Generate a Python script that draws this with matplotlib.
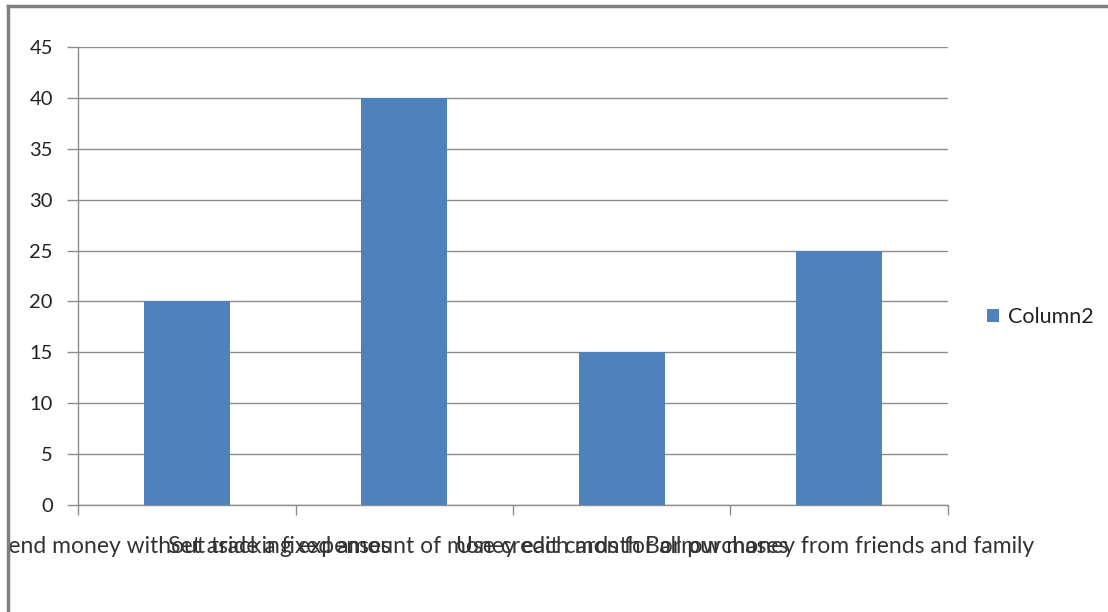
import matplotlib.pyplot as plt
from matplotlib.lines import Line2D
from matplotlib.transforms import Bbox, TransformedBbox

# Answers and counts
categories = [
    "Spend money without tracking expenses",
    "Set aside a fixed amount of money each month",
    "Use credit cards for all purchases",
    "Borrow money from friends and family",
]
values = [20, 40, 15, 25]
series_name = "Column2"
y_ticks = [0, 5, 10, 15, 20, 25, 30, 35, 40, 45]

plt.rcParams["font.family"] = ["Lato", "DejaVu Sans"]

bar_color = "#4F81BD"
line_color = "#8C8C8C"

fig = plt.figure(figsize=(11.08, 6.12), dpi=100)
ax = fig.add_axes([78 / 1108, 107 / 612, 870 / 1108, 458 / 612])

x = list(range(len(categories)))
ax.bar(x, values, width=0.395, color=bar_color, label=series_name, zorder=3)

ax.set_xlim(-0.5, len(categories) - 0.5)
ax.set_ylim(0, 45)
ax.set_yticks(y_ticks)
ax.yaxis.grid(True, color=line_color, linewidth=1)
ax.set_axisbelow(True)

# labels under the bars, tick marks between categories
ax.set_xticks(x)
ax.set_xticklabels(categories, fontsize=16.5, color="#333333")
ax.tick_params(axis="x", which="major", length=0, pad=22)
ax.set_xticks([i - 0.5 for i in range(len(categories) + 1)], minor=True)
ax.tick_params(axis="x", which="minor", length=7, color=line_color, width=1)
ax.tick_params(axis="y", length=8, color=line_color, width=1,
               labelsize=14.5, labelcolor="#222222", pad=10)

# keep the long labels inside the chart border
inner = TransformedBbox(Bbox([[10 / 1108, 0], [1, 1]]), fig.transFigure)
for lbl in ax.get_xticklabels():
    lbl.set_clip_on(True)
    lbl.set_clip_box(inner)

for side in ["top", "right"]:
    ax.spines[side].set_visible(False)
for side in ["left", "bottom"]:
    ax.spines[side].set_color(line_color)
    ax.spines[side].set_linewidth(1)

leg = ax.legend(loc="center left", bbox_to_anchor=(1.022, 0.41), frameon=False,
                fontsize=15.5, handlelength=0.6, handleheight=0.6, handletextpad=0.4)
for t in leg.get_texts():
    t.set_color("#222222")

# chart border (left and top edges)
for xs, ys in [((8 / 1108, 8 / 1108), (0, 1 - 6 / 612)),
               ((8 / 1108, 1.0), (1 - 6 / 612, 1 - 6 / 612))]:
    fig.add_artist(Line2D(xs, ys, color="#7F7F7F", linewidth=2.5,
                          transform=fig.transFigure))

fig.savefig("out.png", dpi=100)
plt.close()
